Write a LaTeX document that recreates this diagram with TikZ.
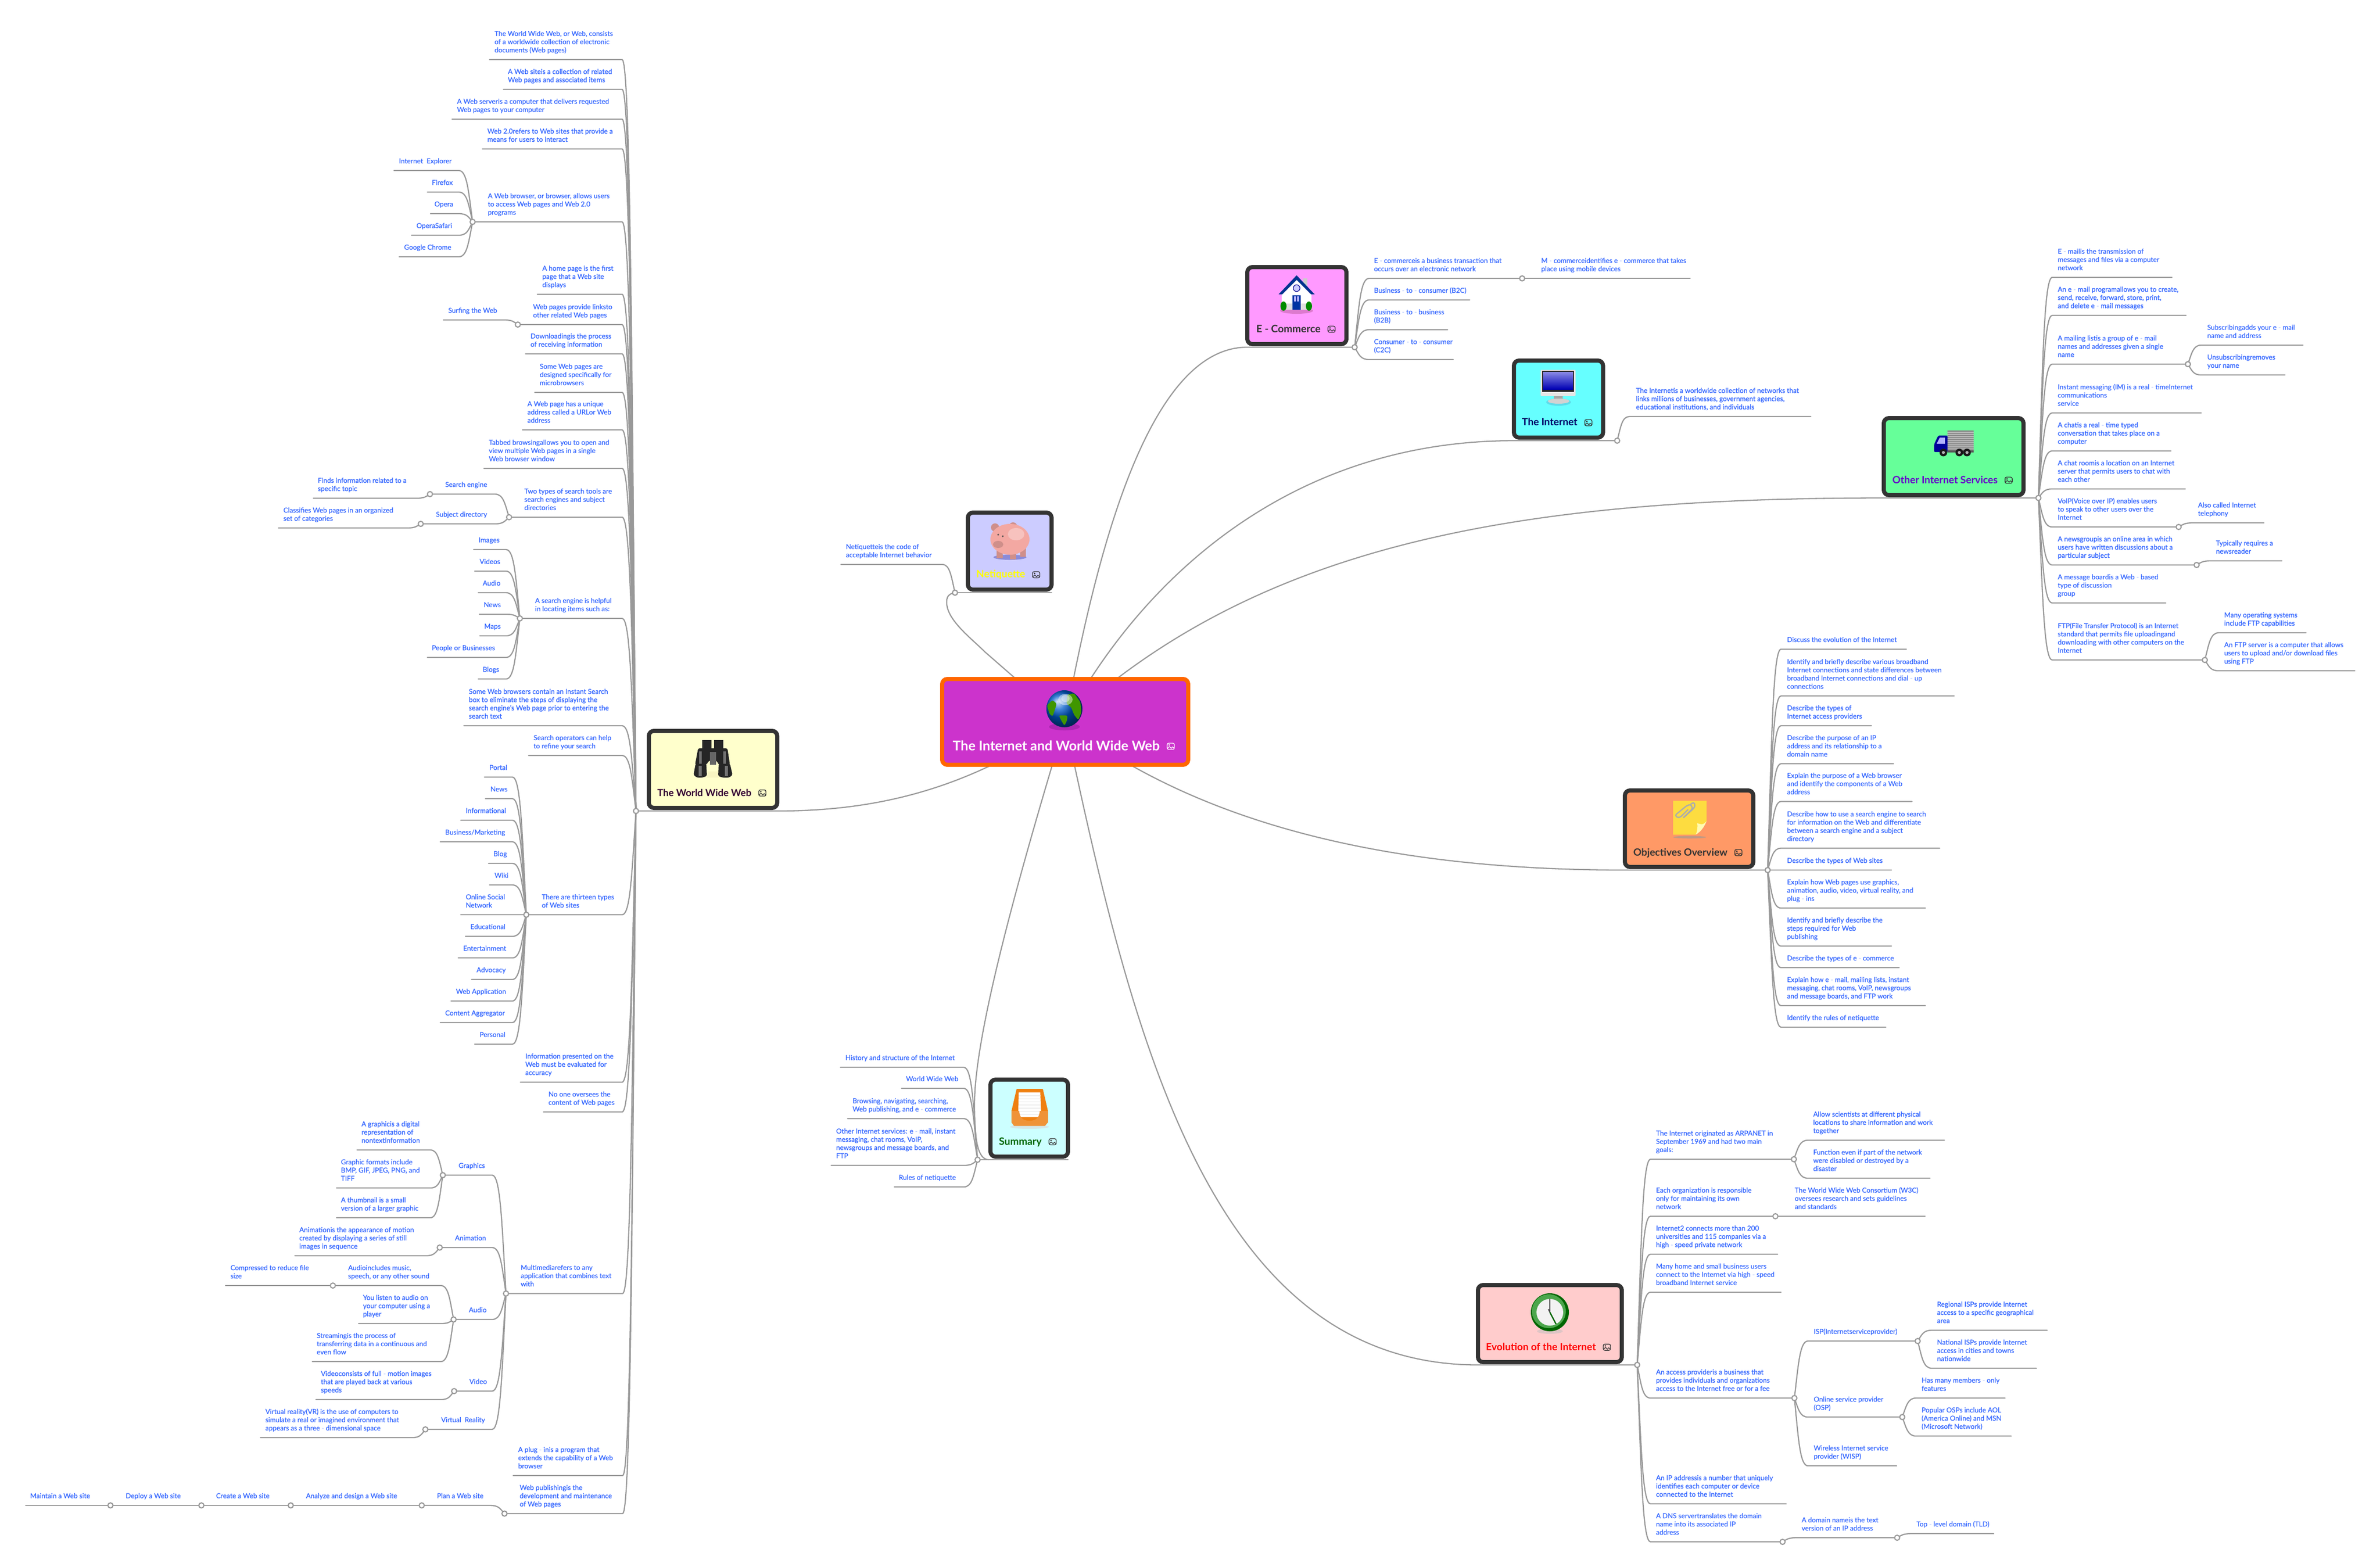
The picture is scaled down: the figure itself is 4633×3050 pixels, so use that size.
\documentclass[tikz,border=0pt]{standalone}
\usepackage{fontspec}
\usepackage{graphicx}
\setmainfont{Lato}
\newfontfamily\bodyf{Lato}[FakeBold=0.4]
\usetikzlibrary{calc}
\pgfdeclarelayer{bg}\pgfsetlayers{bg,main}
\definecolor{lc}{HTML}{999999}
\definecolor{tc}{HTML}{3366FF}
\definecolor{hc}{HTML}{BBCCFF}
\definecolor{bc}{HTML}{333333}
\definecolor{shp}{HTML}{991FA3}
\newcommand\hy{ {\color{hc}-} }
\tikzset{
 lnk/.style={draw=lc,line width=0.023cm,line cap=round},
 txt/.style={anchor=base west,inner sep=0pt,text=tc,font=\bodyf\fontsize{3.79pt}{4.553pt}\selectfont},
 hubc/.style={circle,draw=lc,fill=white,line width=0.022cm,minimum size=0.10cm,inner sep=0pt,outer sep=0pt},
 ttl/.style={anchor=base west,inner sep=0pt,font=\bfseries\fontsize{5.7pt}{6.8pt}\selectfont}
}
% hub circle
\newcommand\Hb[3]{\node[hubc] (#1) at (#2,#3) {};}
% leaf: parent hub, elbow x, name, far end x, line y, text x, text
\newcommand\Lf[7]{%
 \node[txt] (#3) at (#6,#5-14) {\begin{tabular}[b]{@{}l@{}}#7\end{tabular}};
 \coordinate (#3-l) at (#4,#5);
 \coordinate (#3-e) at (#2,#5);
 \begin{pgfonlayer}{bg}
 \draw[lnk] let \p1=(#1),\p2=(#3-e),\n1={\x1-\x2},\n2={\y1-\y2} in (#3-l) -- (\p2) .. controls ({\x2+.6*\n1},\y2) and ({\x2+.7*\n1},{\y2+.4*\n2}) .. (\p1);
 \end{pgfonlayer}}
% box: name, x1,y1,x2,y2, fill, border
\newcommand\Bx[7]{\definecolor{tmpf}{HTML}{#6}\definecolor{tmpb}{HTML}{#7}%
 \node[draw=tmpb,fill=tmpf,line width=0.08cm,rounded corners=0.1cm,inner sep=0pt,outer sep=0pt,minimum width={(#4-#2-8)*0.01cm},minimum height={(#5-#3-8)*0.01cm}] (#1) at ({(#2+#4)/2},{(#3+#5)/2}) {};}
% title: name, x, baseline y, width, colour, text
\newcommand\Ti[6]{\definecolor{tmpt}{HTML}{#5}\node[ttl,text=tmpt] (#1) at (#2,#3) {\resizebox{#4\dimexpr0.01cm\relax}{!}{#6}};}
% image icon
\newcommand\Ic[3]{\begin{scope}[shift={(#1,#2)}]
 \draw[#3,line width=0.014cm,rounded corners=0.03cm] (-7,-6) rectangle (7,6);
 \fill[#3] (-3,-2.5) circle (1.6);
 \draw[#3,line width=0.012cm,line join=round] (-7,4) -- (-2.5,0.5) -- (1,4) -- (3.5,1) -- (7,4);
 \end{scope}}
\begin{document}
\begin{tikzpicture}[x=0.01cm,y=-0.01cm]
\useasboundingbox (0,0) rectangle (4633,3050);
\begin{pgfonlayer}{bg}
 \fill[white] (0,0) rectangle (4633,3050);
\end{pgfonlayer}

% ---------- main boxes
\Bx{root}{1830}{1318}{2317}{1493}{CC33CC}{FF6600}
\Bx{www}{1259}{1419}{1517}{1577}{FFFFCC}{333333}
\Bx{net}{1880}{994}{2051}{1152}{CCCCFF}{333333}
\Bx{ecom}{2424}{516}{2625}{674}{FF99FF}{333333}
\Bx{inet}{2943}{698}{3124.5}{856}{66FFFF}{333333}
\Bx{other}{3663}{810}{3943}{968}{66FF99}{333333}
\Bx{obj}{3159}{1535}{3417}{1692}{FF9966}{333333}
\Bx{evo}{2873}{2498}{3161}{2656}{FFCCCC}{333333}
\Bx{sum}{1924}{2098}{2083}{2256}{CCFFFF}{333333}
\Ti{troot}{1854}{1461}{403}{FFFFFF}{The Internet and World Wide Web}
\Ti{twww}{1279}{1550}{183}{330033}{The World Wide Web}
\Ti{tnet}{1900}{1124}{95}{FFFF00}{Netiquette}
\Ti{tecom}{2445}{647}{125}{333333}{E - Commerce}
\Ti{tinet}{2962}{828}{108}{000066}{The Internet}
\Ti{tother}{3683}{941}{205}{6600CC}{Other Internet Services}
\Ti{tobj}{3179}{1666}{183}{333333}{Objectives Overview}
\Ti{tevo}{2892}{2629}{214}{FF0000}{Evolution of the Internet}
\Ti{tsum}{1944}{2229}{83}{006600}{Summary}
\Ic{2279}{1453}{white}
\Ic{1484}{1544}{bc}
\Ic{2017}{1119}{bc}
\Ic{2592}{641}{bc}
\Ic{3092}{823}{bc}
\Ic{3910}{935}{bc}
\Ic{3384}{1660}{bc}
\Ic{3128}{2623}{bc}
\Ic{2049}{2223}{bc}

% ---------- pictures
% globe
\begin{scope}[shift={(2072,1380)}]
 \fill[shp,opacity=.6] (0,35) ellipse (30 and 7);
 \shade[ball color=blue!55!cyan!80!black] (0,0) ellipse (35 and 36);
 \fill[green!45!black!75!yellow,rounded corners=0.03cm] (6,-28)--(19,-30)--(31,-13)--(33,7)--(27,22)--(19,12)--(13,-3)--(4,-10)--cycle;
 \fill[green!45!black!75!yellow,rounded corners=0.03cm] (-11,13)--(6,13)--(5,23)--(0,33)--(-6,23)--cycle;
 \fill[green!45!black!75!yellow,rounded corners=0.03cm] (-34,-7)--(-23,-17)--(-15,-10)--(-19,3)--(-23,15)--(-29,10)--cycle;
 \fill[white,opacity=.45] (2,-18) ellipse (14 and 11);
 \fill[white,opacity=.4] (2,-20) ellipse (8 and 7);
\end{scope}
% binoculars
\begin{scope}[shift={(1387,1477)}]
 \fill[black!12!yellow!25!white] (-11,25) rectangle (13,37);
 \fill[black!85] (-20,-36) rectangle (-2,-18);
 \fill[black!85] (3,-36) rectangle (21,-18);
 \fill[black!85,rounded corners=0.03cm] (-28,-20)--(29,-20)--(34,12)--(12,12)--(8,4)--(-7,4)--(-12,12)--(-34,12)--cycle;
 \fill[black!85,rounded corners=0.03cm] (-33,10)--(-12,10)--(-11,34)--(-20,37)--(-30,37)--(-37,32)--cycle;
 \fill[black!85,rounded corners=0.03cm] (12,10)--(34,10)--(39,32)--(32,37)--(20,37)--(11,34)--cycle;
 \fill[black!55] (-26,-14) rectangle (-21,10);
 \fill[black!55] (21,-14) rectangle (26,10);
 \fill[black!55] (-27,14) rectangle (-21,34);
 \fill[black!55] (24,14) rectangle (30,34);
 \fill[black!60] (-5,-13) rectangle (7,12);
\end{scope}
% pig
\begin{scope}[shift={(1966,1054)}]
 \fill[blue!40!gray,opacity=.5] (0,31) ellipse (32 and 5);
 \definecolor{pigc}{HTML}{F3A8A2}
 \fill[pigc!85!black] (-29,-27) circle (8);
 \fill[pigc!85!black] (6,-29) circle (8);
 \fill[pigc!85!black] (-26,16) rectangle (-14,33);
 \fill[pigc!85!black] (0,16) rectangle (12,35);
 \fill[pigc!85!black] (20,14) rectangle (31,30);
 \fill[pigc] (0,-4) ellipse (38 and 30);
 \fill[pigc!70!white] (12,-14) ellipse (16 and 12);
 \fill[pigc!85!black] (-23,6) ellipse (10 and 7);
 \fill[black!70] (-23,-13) circle (1.8);
 \fill[black!70] (-14,-10) circle (1.8);
\end{scope}
% house
\begin{scope}[shift={(2524,573)}]
 \fill[magenta!60!black,opacity=.35] (0,32) ellipse (32 and 6);
 \fill[white] (-29,-2) rectangle (29,30);
 \fill[gray!25] (-29,18) rectangle (29,30);
 \fill[white] (-29,2)--(0,-30)--(29,2)--cycle;
 \fill[gray!40] (13,-31) rectangle (21,-14);
 \fill[blue!45!black!80!cyan] (0,-37)--(35,0)--(28,0)--(0,-28)--(-28,0)--(-35,0)--cycle;
 \fill[blue!55!black!80!cyan] (-8,2) rectangle (8,30);
 \fill[white!70!blue] (-5,4) rectangle (-1,14);
 \fill[white!70!blue] (1,4) rectangle (5,14);
 \draw[blue!55!black,fill=white!80!blue,line width=0.012cm] (0,-12) circle (6.5);
 \fill[green!55!black] (-25.5,23) ellipse (6 and 9);
 \fill[green!55!black] (24,23) ellipse (6 and 9);
\end{scope}
% monitor
\begin{scope}[shift={(3033,757)}]
 \fill[cyan!60!gray,opacity=.4] (1,26) ellipse (24 and 7);
 \fill[gray!70] (-8,14) rectangle (9,24);
 \fill[gray!35] (1,24) ellipse (21 and 5);
 \fill[gray!20,rounded corners=0.02cm] (-34,-37) rectangle (34,14);
 \fill[black!85] (-31,-35) rectangle (31,6);
 \shade[top color=blue!45!white!80!gray,bottom color=blue!70!black] (-29,-33) rectangle (29,1);
\end{scope}
% truck
\begin{scope}[shift={(3803,863)}]
 \fill[black!45] (-12,-25) rectangle (39,14);
 \foreach \yy in {-21,-17,...,11} \draw[black!28,line width=0.012cm] (-12,\yy) -- (39,\yy);
 \fill[blue!60!black,rounded corners=0.02cm] (-12,-15)--(-30,-15)--(-38,2)--(-38,17)--(-12,17)--cycle;
 \fill[white!70!blue] (-27,-11)--(-17,-11)--(-17,1)--(-33,1)--cycle;
 \fill[black!65] (-12,14) rectangle (39,18);
 \foreach \xx in {-20,11,26} {\fill[black!90] (\xx,18) circle (7.5); \fill[gray!60] (\xx,18) circle (3);}
\end{scope}
% note
\begin{scope}[shift={(3289,1593)}]
 \fill[black!40,opacity=.6] (0,37) ellipse (32 and 2.5);
 \fill[yellow!70!orange!75!white] (-32,-34)--(33,-34)--(33,6)--(12,32)--(-32,32)--cycle;
 \fill[yellow!30!white] (33,6) .. controls (24,16) and (20,10) .. (15,10) .. controls (16,20) and (14,28) .. (12,32) .. controls (22,26) and (28,18) .. cycle;
 \draw[gray!65,line width=0.025cm,rounded corners=0.03cm] (-12,-1)--(6,-19)--(2,-27)--(-6,-24)--(-28,-6)--(-24,-1)--(-18,-2)--(-3,-17);
 \draw[gray!65,line width=0.025cm,rounded corners=0.03cm] (2,-27)--(8,-31)--(11,-25)--(8,-19)--(-12,-1);
\end{scope}
% clock
\begin{scope}[shift={(3017,2555)}]
 \fill[gray!50,opacity=.5] (0,37) ellipse (25 and 5);
 \fill[green!40!black] (0,0) circle (37);
 \fill[green!50!black!70!white] (-2,-2) circle (33);
 \fill[white!90!gray] (0,0) circle (26);
 \draw[black!80,line width=0.02cm] (0,-26) -- (0,0);
 \draw[green!40!black,line width=0.025cm] (0,0) -- (12,23);
 \draw[black!70,line width=0.02cm] (0,0) -- (-3,-6);
\end{scope}
% tray
\begin{scope}[shift={(2004,2157)}]
 \fill[gray!30,opacity=.6] (0,37) ellipse (38 and 4);
 \fill[orange!75!brown] (-25,-37)--(26,-37)--(36,6)--(36,28)--(30,35)--(-30,35)--(-35,28)--(-35,6)--cycle;
 \fill[white] (-21,-30)--(21,-30)--(23,18)--(-22,18)--cycle;
 \foreach \yy in {-24,-18,...,12} \draw[gray!25,line width=0.008cm] (-21,\yy) -- (22,\yy);
 \fill[orange!70!brown!85!white] (-35,6)--(-20,6) .. controls (-19,22) and (-10,25) .. (0,25) .. controls (10,25) and (19,22) .. (20,6) -- (36,6) -- (36,28) -- (30,35) -- (-30,35) -- (-35,28) -- cycle;
\end{scope}

% ---------- hubs of the main branches
\Hb{wwwH}{1238}{1579}
\Hb{netH}{1859}{1154}
\Hb{ecomH}{2637}{676}
\Hb{inetH}{3148}{858}
\Hb{otherH}{3968}{969.5}
\Hb{objH}{3441}{1694}
\Hb{evoH}{3187}{2657.5}
\Hb{sumH}{1903}{2258}
\coordinate (sumJ) at (1925,2258);
\coordinate (sumC) at (1897,2150);
\begin{pgfonlayer}{bg}
 \draw[lnk] (root.center) -- (1917,1269) .. controls (1890,1242) and (1840,1205) .. (1843,1170) .. controls (1843,1160) and (1850,1156) .. (netH);
 \draw[lnk] (netH) -- (netH -| net.east);
 \draw[lnk] (root.center) .. controls (2130,1100) and (2230,676) .. (ecom.west |- ecomH) -- (ecomH);
 \draw[lnk] (root.center) .. controls (2215,1140) and (2500,858) .. (inet.west |- inetH) -- (inetH);
 \draw[lnk] (root.center) .. controls (2450,1060) and (2950,969.5) .. (other.west |- otherH) -- (otherH);
 \draw[lnk] (root.center) .. controls (2380,1640) and (2800,1694) .. (obj.west |- objH) -- (objH);
 \draw[lnk] (root.center) .. controls (2200,2000) and (2350,2657.5) .. (evo.west |- evoH) -- (evoH);
 \draw[lnk] (root.center) .. controls (2000,1650) and (1897,2000) .. (sumC) .. controls (1897,2215) and (1902,2258) .. (sumJ);
 \draw[lnk] (sumH) -- (sumH -| sum.east);
 \draw[lnk] (wwwH) -- (www.east |- wwwH) .. controls (1700,1579) and (1880,1540) .. (root.center);
\end{pgfonlayer}

% ---------- Netiquette
\Lf{netH}{1834}{n1}{1637}{1099}{1646}{Netiquetteis the code of\\acceptable Internet behavior}

% ---------- Summary
\Lf{sumH}{1876}{s1}{1636}{2078}{1645}{History and structure of the Internet}
\Lf{sumH}{1876}{s2}{1755}{2119}{1763}{World Wide Web}
\Lf{sumH}{1876}{s3}{1650}{2178}{1659}{Browsing, navigating, searching,\\Web publishing, and e\hy commerce}
\Lf{sumH}{1876}{s4}{1618}{2269}{1627}{Other Internet services: e\hy mail, instant\\messaging, chat rooms, VoIP,\\newsgroups and message boards, and\\FTP}
\Lf{sumH}{1876}{s5}{1741}{2311}{1749}{Rules of netiquette}

% ---------- World Wide Web
\Lf{wwwH}{1211}{w1}{953}{116}{962}{The World Wide Web, or Web, consists\\of a worldwide collection of electronic\\documents (Web pages)}
\Lf{wwwH}{1211}{w2}{980}{174}{988}{A Web siteis a collection of related\\Web pages and associated items}
\Lf{wwwH}{1211}{w3}{880}{232}{889}{A Web serveris a computer that delivers requested\\Web pages to your computer}
\Lf{wwwH}{1211}{w4}{939}{290}{948}{Web 2.0refers to Web sites that provide a\\means for users to interact}
\Lf{wwwH}{1211}{w5}{920}{432}{949}{A Web browser, or browser, allows users\\to access Web pages and Web 2.0\\programs}
\Hb{w5H}{920}{432}
\Lf{w5H}{893}{w5a}{767}{332}{776}{Internet\ \ Explorer}
\Lf{w5H}{893}{w5b}{832}{374}{840}{Firefox}
\Lf{w5H}{893}{w5c}{838}{416}{845}{Opera}
\Lf{w5H}{893}{w5d}{801}{458}{810}{OperaSafari}
\Lf{w5H}{893}{w5e}{777}{500}{786}{Google Chrome}
\Lf{wwwH}{1211}{w6}{1046}{573}{1055}{A home page is the first\\page that a Web site\\displays}
\Lf{wwwH}{1211}{w7}{1008}{632}{1037}{Web pages provide linksto\\other related Web pages}
\Hb{w7H}{1008}{632}
\Lf{w7H}{982}{w7a}{863}{623}{872}{Surfing the Web}
\Lf{wwwH}{1211}{w8}{1023}{689}{1032}{Downloadingis the process\\of receiving information}
\Lf{wwwH}{1211}{w9}{1041}{764}{1050}{Some Web pages are\\designed specifically for\\microbrowsers}
\Lf{wwwH}{1211}{w10}{1017}{837}{1026}{A Web page has a unique\\address called a URLor Web\\address}
\Lf{wwwH}{1211}{w11}{942}{912}{951}{Tabbed browsingallows you to open and\\view multiple Web pages in a single\\Web browser window}
\Lf{wwwH}{1211}{w12}{991}{1007}{1020}{Two types of search tools are\\search engines and subject\\directories}
\Hb{w12H}{991}{1007}
\Lf{w12H}{963}{w12a}{837}{962}{866}{Search engine}
\Hb{w12aH}{837}{962}
\Lf{w12aH}{811}{w12a1}{610}{970}{618}{Finds information related to a\\specific topic}
\Lf{w12H}{963}{w12b}{819}{1020}{848}{Subject directory}
\Hb{w12bH}{819}{1020}
\Lf{w12bH}{792}{w12b1}{542}{1028}{551}{Classifies Web pages in an organized\\set of categories}
\Lf{wwwH}{1211}{w13}{1012}{1204}{1041}{A search engine is helpful\\in locating items such as:}
\Hb{w13H}{1012}{1204}
\Lf{w13H}{985}{w13a}{922}{1070}{931}{Images}
\Lf{w13H}{985}{w13b}{924}{1112}{933}{Videos}
\Lf{w13H}{985}{w13c}{931}{1154}{939}{Audio}
\Lf{w13H}{985}{w13d}{933}{1196}{941}{News}
\Lf{w13H}{985}{w13e}{934}{1238}{942}{Maps}
\Lf{w13H}{985}{w13f}{832}{1280}{840}{People or Businesses}
\Lf{w13H}{985}{w13g}{931}{1322}{939}{Blogs}
\Lf{wwwH}{1211}{w14}{903}{1413}{912}{Some Web browsers contain an Instant Search\\box to eliminate the steps of displaying the\\search engine’s Web page prior to entering the\\search text}
\Lf{wwwH}{1211}{w15}{1029}{1471}{1038}{Search operators can help\\to refine your search}
\Lf{wwwH}{1211}{w16}{1024.5}{1781}{1054}{There are thirteen types\\of Web sites}
\Hb{w16H}{1024.5}{1781}
\Lf{w16H}{997.5}{w16a}{943}{1513}{952}{Portal}
\Lf{w16H}{997.5}{w16b}{945}{1555}{954}{News}
\Lf{w16H}{997.5}{w16c}{897}{1597}{906}{Informational}
\Lf{w16H}{997.5}{w16d}{857}{1639}{866}{Business/Marketing}
\Lf{w16H}{997.5}{w16e}{951}{1681}{960}{Blog}
\Lf{w16H}{997.5}{w16f}{953}{1723}{962}{Wiki}
\Lf{w16H}{997.5}{w16g}{897}{1781}{906}{Online Social\\Network}
\Lf{w16H}{997.5}{w16h}{906}{1823}{915}{Educational}
\Lf{w16H}{997.5}{w16i}{892}{1865}{901}{Entertainment}
\Lf{w16H}{997.5}{w16j}{918}{1907}{927}{Advocacy}
\Lf{w16H}{997.5}{w16k}{878}{1949}{887}{Web Application}
\Lf{w16H}{997.5}{w16l}{857}{1991}{866}{Content Aggregator}
\Lf{w16H}{997.5}{w16m}{924}{2033}{933}{Personal}
\Lf{wwwH}{1211}{w17}{1013}{2107}{1022}{Information presented on the\\Web must be evaluated for\\accuracy}
\Lf{wwwH}{1211}{w18}{1058}{2165}{1067}{No one oversees the\\content of Web pages}
\Lf{wwwH}{1212}{w19}{985}{2518.5}{1013}{Multimediarefers to any\\application that combines text\\with}
\Hb{w19H}{985}{2518.5}
\Lf{w19H}{958}{g}{862}{2288}{892}{Graphics}
\Hb{gH}{862}{2288}
\Lf{gH}{837.5}{g1}{695}{2239}{703}{A graphicis a digital\\representation of\\nontextinformation}
\Lf{gH}{837.5}{g2}{655}{2313}{663}{Graphic formats include\\BMP, GIF, JPEG, PNG, and\\TIFF}
\Lf{gH}{837.5}{g3}{655}{2371}{663}{A thumbnail is a small\\version of a larger graphic}
\Lf{w19H}{958}{an}{856}{2429}{885}{Animation}
\Hb{anH}{856}{2429}
\Lf{anH}{829}{an1}{574}{2445}{582}{Animationis the appearance of motion\\created by displaying a series of still\\images in sequence}
\Lf{w19H}{958}{au}{883}{2569}{912}{Audio}
\Hb{auH}{883}{2569}
\Lf{auH}{858}{au1}{648}{2503}{677}{Audioincludes music,\\speech, or any other sound}
\Hb{au1H}{648}{2503}
\Lf{au1H}{600}{au1a}{439}{2503}{448}{Compressed to reduce file\\size}
\Lf{auH}{858}{au2}{698}{2577}{706}{You listen to audio on\\your computer using a\\player}
\Lf{auH}{858}{au3}{608}{2651}{616}{Streamingis the process of\\transferring data in a continuous and\\even flow}
\Lf{w19H}{958}{vi}{884}{2708.5}{913}{Video}
\Hb{viH}{884}{2708.5}
\Lf{viH}{858}{vi1}{615}{2725}{624}{Videoconsists of full\hy motion images\\that are played back at various\\speeds}
\Lf{w19H}{958}{vr}{828}{2783}{858}{Virtual\ \ Reality}
\Hb{vrH}{828}{2783}
\Lf{vrH}{803}{vr1}{507}{2799}{516}{Virtual reality(VR) is the use of computers to\\simulate a real or imagined environment that\\appears as a three\hy dimensional space}
\Lf{wwwH}{1212}{w20}{999}{2873}{1008}{A plug\hy inis a program that\\extends the capability of a Web\\browser}
\Lf{wwwH}{1212}{w21}{982}{2947}{1011}{Web publishingis the\\development and maintenance\\of Web pages}
\Hb{w21H}{982}{2947}
\Lf{w21H}{954}{p1}{821}{2931}{850}{Plan a Web site}
\Hb{p1H}{821}{2931}
\Lf{p1H}{700}{p2}{566}{2931}{595}{Analyze and design a Web site}
\Hb{p2H}{566}{2931}
\Lf{p2H}{500}{p3}{392}{2931}{420}{Create a Web site}
\Hb{p3H}{392}{2931}
\Lf{p3H}{300}{p4}{215}{2931}{244}{Deploy a Web site}
\Hb{p4H}{215}{2931}
\Lf{p4H}{120}{p5}{50}{2931}{58}{Maintain a Web site}

% ---------- E-Commerce
\Lf{ecomH}{2665}{e1}{2963}{542}{2674}{E\hy commerceis a business transaction that\\occurs over an electronic network}
\Hb{e1H}{2963}{542}
\Lf{e1H}{3100}{e1a}{3290}{542}{2999.5}{M\hy commerceidentifies e\hy commerce that takes\\place using mobile devices}
\Lf{ecomH}{2665}{e2}{2861}{584}{2674}{Business\hy to\hy consumer (B2C)}
\Lf{ecomH}{2665}{e3}{2818}{642}{2674}{Business\hy to\hy business\\(B2B)}
\Lf{ecomH}{2665}{e4}{2829}{700}{2674}{Consumer\hy to\hy consumer\\(C2C)}

% ---------- The Internet
\Lf{inetH}{3172}{i1}{3525}{811}{3184}{The Internetis a worldwide collection of networks that\\links millions of businesses, government agencies,\\educational institutions, and individuals}

% ---------- Other Internet Services
\Lf{otherH}{3995}{o1}{4228}{540}{4005}{E\hy mailis the transmission of\\messages and files via a computer\\network}
\Lf{otherH}{3995}{o2}{4255.5}{614}{4005}{An e\hy mail programallows you to create,\\send, receive, forward, store, print,\\and delete e\hy mail messages}
\Lf{otherH}{3995}{o3}{4259}{709}{4005}{A mailing listis a group of e\hy mail\\names and addresses given a single\\name}
\Hb{o3H}{4259}{709}
\Lf{o3H}{4285}{o3a}{4483}{672}{4296}{Subscribingadds your e\hy mail\\name and address}
\Lf{o3H}{4285}{o3b}{4448}{730}{4296}{Unsubscribingremoves\\your name}
\Lf{otherH}{3995}{o4}{4285}{804}{4005}{Instant messaging (IM) is a real\hy timeInternet\\communications\\service}
\Lf{otherH}{3995}{o5}{4226}{878}{4005}{A chatis a real\hy time typed\\conversation that takes place on a\\computer}
\Lf{otherH}{3995}{o6}{4254}{952}{4005}{A chat roomis a location on an Internet\\server that permits users to chat with\\each other}
\Lf{otherH}{3995}{o7}{4241}{1026}{4005}{VoIP(Voice over IP) enables users\\to speak to other users over the\\Internet}
\Hb{o7H}{4241}{1026}
\Lf{o7H}{4269}{o7a}{4407}{1018}{4278}{Also called Internet\\telephony}
\Lf{otherH}{3995}{o8}{4276}{1100}{4005}{A newsgroupis an online area in which\\users have written discussions about a\\particular subject}
\Hb{o8H}{4276}{1100}
\Lf{o8H}{4303.5}{o8a}{4442}{1092}{4313}{Typically requires a\\newsreader}
\Lf{otherH}{3995}{o9}{4216}{1174}{4005}{A message boardis a Web\hy based\\type of discussion\\group}
\Lf{otherH}{3995}{o10}{4292}{1285}{4005}{FTP(File Transfer Protocol) is an Internet\\standard that permits file uploadingand\\downloading with other computers on the\\Internet}
\Hb{o10H}{4292}{1285}
\Lf{o10H}{4319}{o10a}{4489}{1232}{4329}{Many operating systems\\include FTP capabilities}
\Lf{o10H}{4319}{o10b}{4584}{1306}{4329}{An FTP server is a computer that allows\\users to upload and/or download files\\using FTP}

% ---------- Objectives Overview
\Lf{objH}{3467}{b1}{3711}{1264}{3478}{Discuss the evolution of the Internet}
\Lf{objH}{3467}{b2}{3804}{1355}{3478}{Identify and briefly describe various broadband\\Internet connections and state differences between\\broadband Internet connections and dial\hy up\\connections}
\Lf{objH}{3467}{b3}{3643}{1413}{3478}{Describe the types of\\Internet access providers}
\Lf{objH}{3467}{b4}{3686}{1487}{3478}{Describe the purpose of an IP\\address and its relationship to a\\domain name}
\Lf{objH}{3467}{b5}{3722}{1560.5}{3478}{Explain the purpose of a Web browser\\and identify the components of a Web\\address}
\Lf{objH}{3467}{b6}{3776}{1651.5}{3478}{Describe how to use a search engine to search\\for information on the Web and differentiate\\between a search engine and a subject\\directory}
\Lf{objH}{3467}{b7}{3682}{1694}{3478}{Describe the types of Web sites}
\Lf{objH}{3467}{b8}{3748}{1768}{3478}{Explain how Web pages use graphics,\\animation, audio, video, virtual reality, and\\plug\hy ins}
\Lf{objH}{3467}{b9}{3682}{1842}{3478}{Identify and briefly describe the\\steps required for Web\\publishing}
\Lf{objH}{3467}{b10}{3697}{1884}{3478}{Describe the types of e\hy commerce}
\Lf{objH}{3467}{b11}{3748}{1958}{3478}{Explain how e\hy mail, mailing lists, instant\\messaging, chat rooms, VoIP, newsgroups\\and message boards, and FTP work}
\Lf{objH}{3467}{b12}{3671}{2000}{3478}{Identify the rules of netiquette}

% ---------- Evolution of the Internet
\Lf{evoH}{3213}{v1}{3492}{2257}{3223}{The Internet originated as ARPANET in\\September 1969 and had two main\\goals:}
\Hb{v1H}{3492}{2257}
\Lf{v1H}{3519.5}{v1a}{3785}{2220}{3529}{Allow scientists at different physical\\locations to share information and work\\together}
\Lf{v1H}{3519.5}{v1b}{3757}{2294}{3529}{Function even if part of the network\\were disabled or destroyed by a\\disaster}
\Lf{evoH}{3213}{v2}{3456}{2368}{3223}{Each organization is responsible\\only for maintaining its own\\network}
\Hb{v2H}{3456}{2368}
\Lf{v2H}{3600}{v2a}{3747.5}{2368}{3493}{The World Wide Web Consortium (W3C)\\oversees research and sets guidelines\\and standards}
\Lf{evoH}{3213}{v3}{3460.5}{2442}{3223}{Internet2 connects more than 200\\universities and 115 companies via a\\high\hy speed private network}
\Lf{evoH}{3213}{v4}{3467}{2516}{3223}{Many home and small business users\\connect to the Internet via high\hy speed\\broadband Internet service}
\Lf{evoH}{3213}{v5}{3493}{2722}{3223}{An access provideris a business that\\provides individuals and organizations\\access to the Internet free or for a fee}
\Hb{v5H}{3493}{2722}
\Lf{v5H}{3519.5}{v5a}{3733}{2611}{3530}{ISP(Internetserviceprovider)}
\Hb{v5aH}{3733}{2611}
\Lf{v5aH}{3760.5}{v5a1}{3985}{2590}{3770}{Regional ISPs provide Internet\\access to a specific geographical\\area}
\Lf{v5aH}{3760.5}{v5a2}{3964}{2664}{3770}{National ISPs provide Internet\\access in cities and towns\\nationwide}
\Lf{v5H}{3519.5}{v5b}{3703}{2759}{3530}{Online service provider\\(OSP)}
\Hb{v5bH}{3703}{2759}
\Lf{v5bH}{3730}{v5b1}{3903}{2722}{3740}{Has many members\hy only\\features}
\Lf{v5bH}{3730}{v5b2}{3915}{2796}{3740}{Popular OSPs include AOL\\(America Online) and MSN\\(Microsoft Network)}
\Lf{v5H}{3519.5}{v5c}{3692}{2854}{3530}{Wireless Internet service\\provider (WISP)}
\Lf{evoH}{3213}{v6}{3477}{2928}{3223}{An IP addressis a number that uniquely\\identifies each computer or device\\connected to the Internet}
\Lf{evoH}{3213}{v7}{3470}{3002}{3223}{A DNS servertranslates the domain\\name into its associated IP\\address}
\Hb{v7H}{3470}{3002}
\Lf{v7H}{3496.5}{v7a}{3693}{2994}{3506.5}{A domain nameis the text\\version of an IP address}
\Hb{v7aH}{3693}{2994}
\Lf{v7aH}{3721}{v7a1}{3881}{2986}{3730}{Top\hy level domain (TLD)}
\end{tikzpicture}
\end{document}
